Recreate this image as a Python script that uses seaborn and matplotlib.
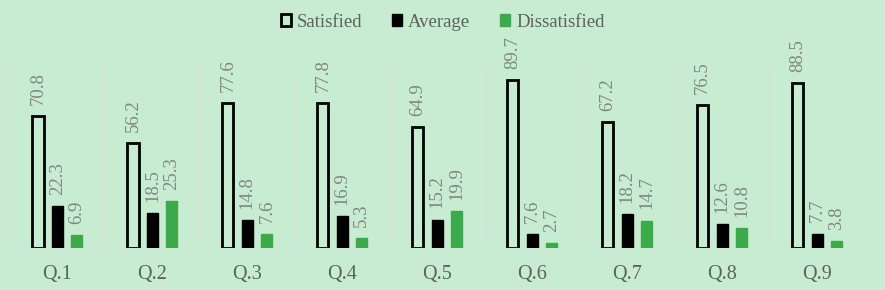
import numpy as np
import pandas as pd
import seaborn as sns
from matplotlib import pyplot as plt
from matplotlib.patches import Patch

questions = ['Q.1', 'Q.2', 'Q.3', 'Q.4', 'Q.5', 'Q.6', 'Q.7', 'Q.8', 'Q.9']
satisfied = [70.8, 56.2, 77.6, 77.8, 64.9, 89.7, 67.2, 76.5, 88.5]
average = [22.3, 18.5, 14.8, 16.9, 15.2, 7.6, 18.2, 12.6, 7.7]
dissatisfied = [6.9, 25.3, 7.6, 5.3, 19.9, 2.7, 14.7, 10.8, 3.8]
groups = ['Satisfied', 'Average', 'Dissatisfied']

bg = '#c8ecd1'
green = '#3aaa4a'

df = pd.DataFrame({
    'q': questions * 3,
    'v': satisfied + average + dissatisfied,
    'g': [g for g in groups for _ in questions],
})

sns.set_style('white')
plt.rcParams['font.family'] = ['Liberation Serif', 'DejaVu Serif']

fig = plt.figure(figsize=(8.85, 2.9), dpi=100, facecolor=bg)
ax = fig.add_axes([0.0113, 0.145, 0.9657, 0.631])
ax.set_facecolor(bg)

sns.barplot(data=df, x='q', y='v', hue='g', hue_order=groups,
            palette=[bg, 'black', green], width=0.615, gap=0.43,
            ax=ax, legend=False, zorder=3)

# outlined "Satisfied" bars, solid others
for bar in ax.containers[0]:
    bar.set_facecolor(bg)
    bar.set_edgecolor('black')
    bar.set_linewidth(2)
for bar in ax.containers[1]:
    bar.set_facecolor('black')
    bar.set_edgecolor('black')
for bar in ax.containers[2]:
    bar.set_facecolor(green)
    bar.set_edgecolor(green)

for cont in ax.containers:
    lbls = ax.bar_label(cont, fmt='%.1f', rotation=90, padding=8,
                        fontsize=13.5, color='#7f8782')
    for t in lbls:
        t.set_clip_on(False)

ax.set_ylim(0, 98)
ax.set_xlim(-0.5, len(questions) - 0.5)
for i in range(len(questions) + 1):
    ax.axvline(i - 0.5, color='#d9dfd9', lw=1, zorder=1)
ax.axhline(0, color='#d9dfd9', lw=1.2, zorder=2)

for s in ax.spines.values():
    s.set_visible(False)
ax.set_yticks([])
ax.set_xlabel('')
ax.set_ylabel('')
ax.tick_params(axis='x', length=0, pad=12, labelsize=14.5, labelcolor='#5b625d')

handles = [Patch(facecolor=bg, edgecolor='black', linewidth=2),
           Patch(facecolor='black', edgecolor='black'),
           Patch(facecolor=green, edgecolor=green)]
leg = fig.legend(handles, groups, loc='center', bbox_to_anchor=(0.5, 0.924),
                 ncol=3, frameon=False, fontsize=13.5, handlelength=0.55,
                 handleheight=0.55, handletextpad=0.3, columnspacing=1.6)
for t in leg.get_texts():
    t.set_color('#5b625d')

fig.savefig('out.png', dpi=100, facecolor=bg)
